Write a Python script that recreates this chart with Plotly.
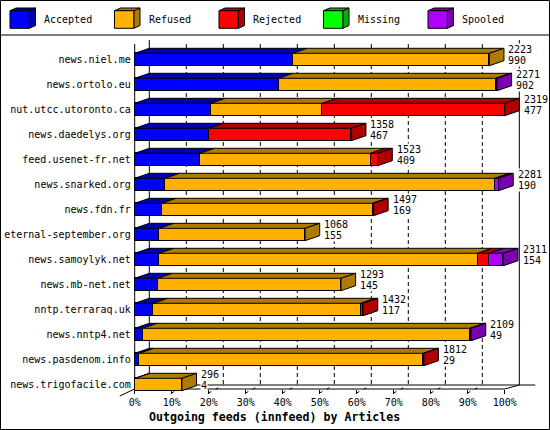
import plotly.graph_objects as go

# ---------------- data ----------------
hosts = ["news.niel.me", "news.ortolo.eu", "nut.utcc.utoronto.ca", "news.daedelys.org",
         "feed.usenet-fr.net", "news.snarked.org", "news.fdn.fr", "eternal-september.org",
         "news.samoylyk.net", "news.mb-net.net", "nntp.terraraq.uk", "news.nntp4.net",
         "news.pasdenom.info", "news.trigofacile.com"]
accepted = [990, 902, 477, 467, 409, 190, 169, 155, 154, 145, 117, 49, 29, 4]
refused = [1233, 1361, 699, 0, 1070, 2068, 1322, 913, 1996, 1148, 1300, 2052, 1780, 292]
rejected = [0, 0, 1143, 891, 44, 0, 6, 0, 72, 0, 15, 0, 3, 0]
missing = [0] * 14
spooled = [0, 8, 0, 0, 0, 23, 0, 0, 89, 0, 0, 8, 0, 0]
status_names = ["Accepted", "Refused", "Rejected", "Missing", "Spooled"]
tick_pcts = list(range(0, 101, 10))
tick_labels = [f"{v}%" for v in tick_pcts]
x_title = "Outgoing feeds (innfeed) by Articles"

# ---------------- style / geometry ----------------
front_cols = ["#0000FF", "#FFB000", "#FF0000", "#00FF00", "#B000FF"]
dark_cols = ["#0000B0", "#B07A00", "#B00000", "#00B000", "#7A00B0"]
FONT = "DejaVu Sans Mono"
W, H = 550, 430
X0F, PXP = 134.7, 3.7          # front 0% pixel, pixels per percent
DX, DY = 14.6, 5.0             # 3D depth offset (px)
ROW0, PITCH, BAR_H = 59.5, 25.0, 12.4

def px2x(p):
    return (p - X0F) / PXP

def py2y(p):
    return (p - ROW0) / PITCH

dxu, dyu, hu = DX / PXP, DY / PITCH, BAR_H / PITCH / 2

series = [accepted, refused, rejected, missing, spooled]
totals = [sum(s[i] for s in series) for i in range(len(hosts))]
vmax = max(totals)
pct = [[v / vmax * 100 for v in s] for s in series]
rows = list(range(len(hosts)))

fig = go.Figure()

# front faces as stacked horizontal bars
for k, name in enumerate(status_names):
    fig.add_trace(go.Bar(
        orientation="h", y=rows, x=[v if v > 0 else None for v in pct[k]],
        width=2 * hu, marker=dict(color=front_cols[k], line=dict(color="black", width=1)),
        name=name, showlegend=False, hoverinfo="skip"))

# top faces and side faces
top_x = [[] for _ in status_names]
top_y = [[] for _ in status_names]
side_x = [[] for _ in status_names]
side_y = [[] for _ in status_names]
for i in rows:
    a = 0.0
    last = None
    yt, yb = i - hu, i + hu
    for k in range(len(status_names)):
        v = pct[k][i]
        if v <= 0:
            continue
        b = a + v
        top_x[k] += [a, b, b + dxu, a + dxu, a, None]
        top_y[k] += [yt, yt, yt - dyu, yt - dyu, yt, None]
        last = k
        a = b
    side_x[last] += [a, a + dxu, a + dxu, a, a, None]
    side_y[last] += [yt, yt - dyu, yb - dyu, yb, yt, None]

for k in range(len(status_names)):
    for xs, ys in ((top_x[k], top_y[k]), (side_x[k], side_y[k])):
        if xs:
            fig.add_trace(go.Scatter(x=xs, y=ys, mode="lines", fill="toself",
                                     fillcolor=dark_cols[k], line=dict(color="black", width=1),
                                     showlegend=False, hoverinfo="skip"))

# value labels (total / accepted)
for i in rows:
    xl = totals[i] / vmax * 100 + dxu + 3.5 / PXP
    for txt, dy in ((str(totals[i]), -0.385), (str(accepted[i]), 0.045)):
        fig.add_annotation(x=xl, y=i + dy, xref="x", yref="y", text=txt, showarrow=False,
                           xanchor="left", yanchor="middle", bgcolor="white", borderpad=0,
                           font=dict(family=FONT, size=10, color="black"))

shapes = []
def seg(x0, y0, x1, y1, dash="solid"):
    shapes.append(dict(type="line", xref="x", yref="y", x0=x0, y0=y0, x1=x1, y1=y1,
                       line=dict(color="black", width=1, dash=dash), layer="below"))

# axes frame in data coords
seg(0, py2y(44), 0, py2y(390))                      # front left axis
seg(dxu, py2y(40), dxu, py2y(385))                  # back 0%
seg(100 + dxu, py2y(40), 100 + dxu, py2y(385))      # back 100%
for t in tick_pcts[1:-1]:
    seg(t + dxu, py2y(44), t + dxu, py2y(385), dash="4px,3px")
    seg(t, py2y(393), t + dxu, py2y(385), dash="3px,5px")
seg(0, py2y(389), 100, py2y(389))                   # front floor
seg(dxu, py2y(385), 100 + dxu + 16 / PXP, py2y(385))  # back floor
seg(-15 / PXP, py2y(396), 0, py2y(389))
seg(100, py2y(389), 100 + dxu, py2y(385))

# paper-level decoration: border, header separator, legend
def pp(x, y):
    return x / W, 1 - y / H

def path(pts):
    return "M " + " L ".join(f"{pp(x, y)[0]:.5f},{pp(x, y)[1]:.5f}" for x, y in pts) + " Z"

shapes.append(dict(type="rect", xref="paper", yref="paper", x0=0.5 / W, y0=0.5 / H,
                   x1=1 - 0.5 / W, y1=1 - 0.5 / H, line=dict(color="black", width=1)))
shapes.append(dict(type="line", xref="paper", yref="paper", x0=0, x1=1,
                   y0=1 - 35 / H, y1=1 - 35 / H, line=dict(color="black", width=1)))
for k, name in enumerate(status_names):
    x0 = 10 + 104.5 * k
    x1 = x0 + 19.3
    ytop, ybot = 10.7, 28.3
    ddx, ddy = 6.2, 2.7
    shapes.append(dict(type="path", xref="paper", yref="paper",
                       path=path([(x1, ytop), (x1 + ddx, ytop - ddy), (x1 + ddx, ybot - ddy), (x1, ybot)]),
                       fillcolor=dark_cols[k], line=dict(color="black", width=1)))
    shapes.append(dict(type="path", xref="paper", yref="paper",
                       path=path([(x0, ytop), (x1, ytop), (x1 + ddx, ytop - ddy), (x0 + ddx, ytop - ddy)]),
                       fillcolor=dark_cols[k], line=dict(color="black", width=1)))
    shapes.append(dict(type="path", xref="paper", yref="paper",
                       path=path([(x0, ytop), (x1, ytop), (x1, ybot), (x0, ybot)]),
                       fillcolor=front_cols[k], line=dict(color="black", width=1)))
    fig.add_annotation(x=(x0 + 32.3) / W, y=1 - 20 / H, xref="paper", yref="paper", text=name,
                       showarrow=False, xanchor="left", yanchor="middle",
                       font=dict(family=FONT, size=10, color="black"))

fig.add_annotation(x=274 / W, y=1 - 416.7 / H, xref="paper", yref="paper",
                   text=f"<b>{x_title}</b>", showarrow=False, xanchor="center", yanchor="middle",
                   font=dict(family=FONT, size=11.6, color="black"))

fig.update_layout(
    width=W, height=H, margin=dict(l=0, r=0, t=0, b=0, pad=0),
    paper_bgcolor="white", plot_bgcolor="white", barmode="stack", bargap=0,
    showlegend=False, shapes=shapes,
    xaxis=dict(range=[px2x(0), px2x(W)], anchor="free", position=1 - 389 / H,
               tickmode="array", tickvals=tick_pcts, ticktext=tick_labels,
               ticks="outside", ticklen=4, tickcolor="black", tickwidth=1,
               showgrid=False, zeroline=False, showline=False,
               tickfont=dict(family=FONT, size=10, color="black")),
    yaxis=dict(range=[py2y(H), py2y(0)], anchor="free", position=X0F / W,
               tickmode="array", tickvals=rows, ticktext=hosts, ticks="",
               ticklabelstandoff=4,
               showgrid=False, zeroline=False, showline=False,
               tickfont=dict(family=FONT, size=10, color="black")),
)

fig.write_html("out.html", config={"displayModeBar": False},
               post_script="document.body.style.margin='0';document.body.style.overflow='hidden';")
